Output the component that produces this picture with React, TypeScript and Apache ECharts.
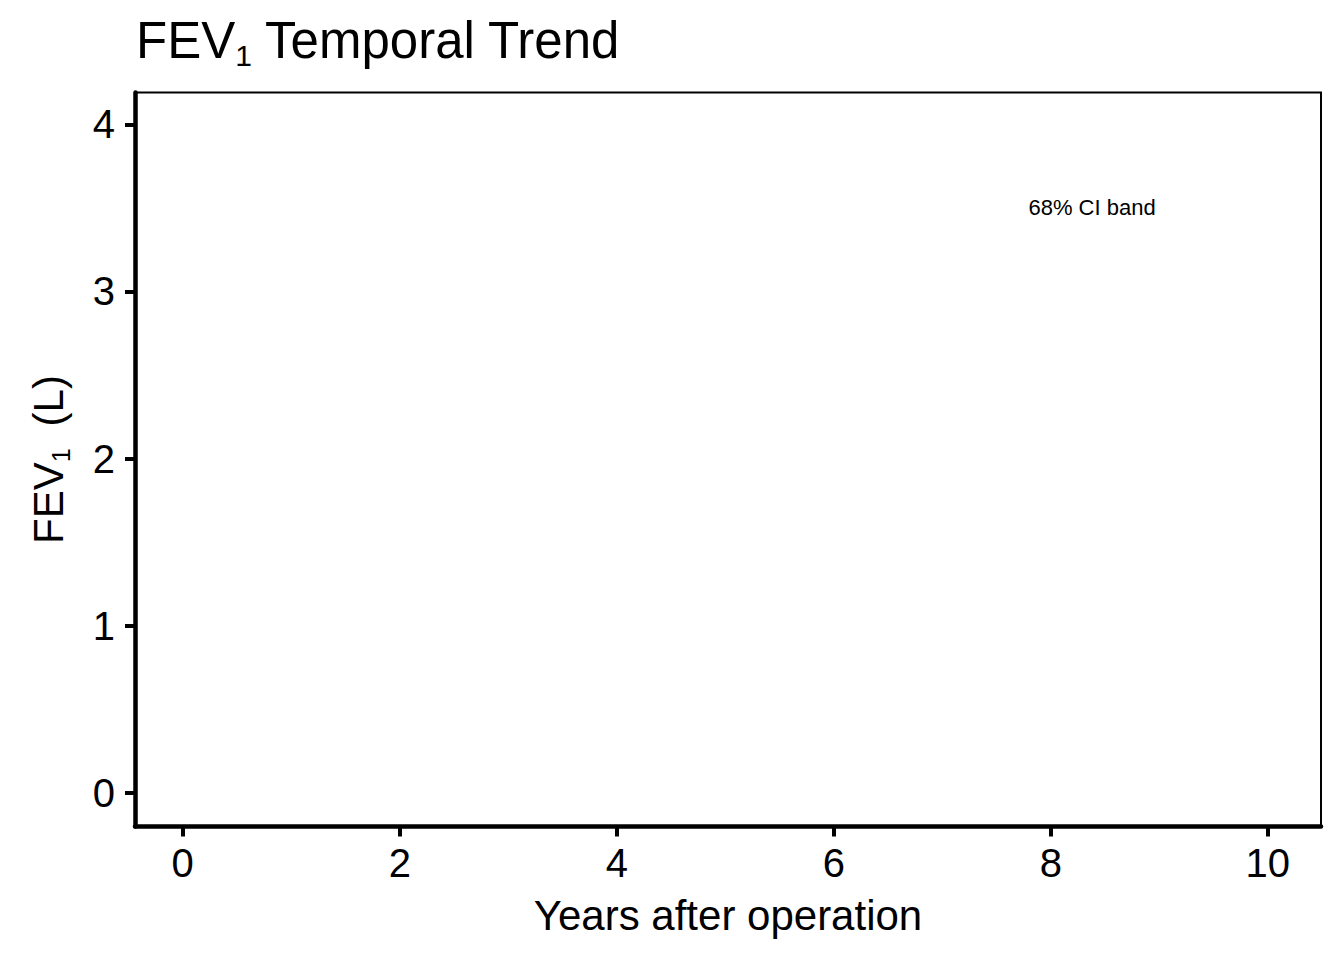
import React, { useEffect, useRef } from "react";
import * as echarts from "echarts";

const xTicks = [0, 2, 4, 6, 8, 10];
const yTicks = [0, 1, 2, 3, 4];
const xRange = [-0.44, 10.49];
const yRange = [-0.2, 4.19];
const annotationPoint = [[8.38, 3.5]];
const annotationText = "68% CI band";
const titleText = "{a|FEV}{s|1}{a| Temporal Trend}";
const xAxisName = "Years after operation";
const yAxisName = "{a|FEV}{s|1}{g| }{a|(L)}";

const FONT = "'Liberation Sans', Arial, Helvetica, sans-serif";

export default function App() {
  const ref = useRef<HTMLDivElement>(null);
  useEffect(() => {
    if (!ref.current) return;
    const chart = echarts.init(ref.current, undefined, { renderer: "svg" });
    chart.setOption({
      animation: false,
      backgroundColor: "#ffffff",
      textStyle: { fontFamily: FONT, color: "#000" },
      title: {
        text: titleText,
        left: 136,
        top: 10,
        padding: 0,
        textStyle: {
          fontWeight: "normal",
          rich: {
            a: { fontSize: 51, lineHeight: 60, fontWeight: "normal", fontFamily: FONT, color: "#000" },
            s: { fontSize: 30, lineHeight: 40, verticalAlign: "bottom", fontWeight: "normal", fontFamily: FONT, color: "#000" },
          },
        },
      },
      grid: {
        left: 135,
        right: 23,
        top: 92.5,
        bottom: 133.5,
        show: true,
        borderColor: "#000",
        borderWidth: 2,
        containLabel: false,
      },
      xAxis: {
        type: "value",
        min: xRange[0],
        max: xRange[1],
        name: xAxisName,
        nameLocation: "middle",
        nameGap: 68,
        nameTextStyle: { fontSize: 42, color: "#000", fontFamily: FONT },
        axisLine: { show: true, onZero: false, lineStyle: { color: "#000", width: 4.5 } },
        axisTick: { show: true, length: 10, customValues: xTicks, lineStyle: { color: "#000", width: 4 } },
        axisLabel: { show: true, customValues: xTicks, margin: 16.5, fontSize: 40, color: "#000", fontFamily: FONT },
        splitLine: { show: false },
      },
      yAxis: {
        type: "value",
        min: yRange[0],
        max: yRange[1],
        name: yAxisName,
        nameLocation: "middle",
        nameRotate: 90,
        nameGap: 62,
        nameTextStyle: {
          rich: {
            a: { fontSize: 42, lineHeight: 50, fontFamily: FONT, color: "#000" },
            s: { fontSize: 25, lineHeight: 34, verticalAlign: "bottom", fontFamily: FONT, color: "#000" },
            g: { fontSize: 42, lineHeight: 50, width: 22, fontFamily: FONT, color: "#000" },
          },
        },
        axisLine: { show: true, onZero: false, lineStyle: { color: "#000", width: 4.5 } },
        axisTick: { show: true, length: 10, customValues: yTicks, lineStyle: { color: "#000", width: 4 } },
        axisLabel: { show: true, customValues: yTicks, margin: 20, fontSize: 40, color: "#000", fontFamily: FONT },
        splitLine: { show: false },
      },
      series: [
        {
          type: "scatter",
          data: annotationPoint,
          symbolSize: 1,
          itemStyle: { color: "#ffffff", opacity: 1 },
          silent: true,
          label: {
            show: true,
            position: "inside",
            formatter: annotationText,
            fontSize: 22,
            color: "#000000",
            opacity: 1,
            textBorderWidth: 0,
            fontFamily: FONT,
          },
        },
      ],
    });
    return () => chart.dispose();
  }, []);
  return (
    <div
      ref={ref}
      style={{ position: "absolute", left: 0, top: 0, width: 1344, height: 960 }}
    />
  );
}
